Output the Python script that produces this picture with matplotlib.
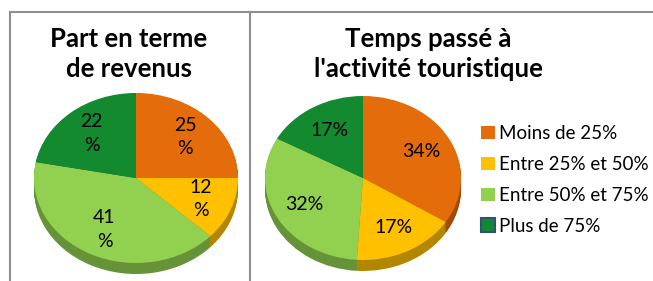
import numpy as np
import matplotlib.pyplot as plt
from matplotlib.lines import Line2D
from matplotlib.patches import Patch
from matplotlib.colors import to_rgb

plt.rcParams['font.family'] = ['Lato', 'DejaVu Sans']

# data
categories = ['Moins de 25%', 'Entre 25% et 50%', 'Entre 50% et 75%', 'Plus de 75%']
revenus = [25, 12, 41, 22]
temps = [34, 17, 32, 17]
titles = ['Part en terme\nde revenus', "Temps passé à\nl'activité touristique"]
colors = ['#E46C0A', '#FFC000', '#92D050', '#138A2F']

W, H = 653, 281
fig = plt.figure(figsize=(W / 100, H / 100), dpi=100)


def darker(c, f=0.7):
    r, g, b = to_rgb(c)
    return (r * f, g * f, b * f)


def pie3d(cx, cy, rx, ry, depth, values, fmt):
    # axes in pixel terms: 1 unit = rx px horizontally, ry px vertically
    x0, x1 = -1.05, 1.05
    y0, y1 = -1.0 - depth / ry - 0.05, 1.05
    left = cx + x0 * rx
    right = cx + x1 * rx
    top = cy - y1 * ry
    bottom = cy - y0 * ry
    ax = fig.add_axes([left / W, (H - bottom) / H, (right - left) / W, (bottom - top) / H])
    side = [darker(c) for c in colors]
    for d in np.linspace(depth / ry, 0.01, 12):
        ax.pie(values, colors=side, startangle=90, counterclock=False,
               center=(0, -d), wedgeprops=dict(linewidth=0))
    ax.pie(values, colors=colors, startangle=90, counterclock=False,
           autopct=fmt, pctdistance=0.68,
           textprops=dict(fontsize=14, color='black', linespacing=1.45),
           wedgeprops=dict(linewidth=0))
    ax.set_aspect('auto')
    ax.set_xlim(x0, x1)
    ax.set_ylim(y0, y1)
    ax.axis('off')
    return ax


pie3d(136, 178, 102, 85, 11, revenus, lambda p: '{:.0f}\n%'.format(p))
pie3d(363, 178, 98, 82, 11, temps, lambda p: '{:.0f}%'.format(p))

# titles
fig.text(129 / W, 1 - 54 / H, titles[0], ha='center', va='center',
         fontsize=18.5, fontweight='bold', linespacing=1.33)
fig.text(428 / W, 1 - 54 / H, titles[1], ha='center', va='center',
         fontsize=18.5, fontweight='bold', linespacing=1.33)

# frame lines
gray = '#8f8f8f'
fig.add_artist(Line2D([10 / W, 1], [1 - 12 / H, 1 - 12 / H], color=gray, lw=1.5))
fig.add_artist(Line2D([10 / W, 10 / W], [0, 1 - 12 / H], color=gray, lw=1.5))
fig.add_artist(Line2D([250 / W, 250 / W], [0, 1 - 12 / H], color=gray, lw=1.5))

# legend
handles = [Patch(facecolor=c, edgecolor='none') for c in colors[:3]]
handles.append(Patch(facecolor=colors[3], edgecolor='#2F4F7F', linewidth=1.5))
fig.legend(handles, categories, loc='upper left', bbox_to_anchor=(481 / W, 1 - 125 / H),
           frameon=False, fontsize=13.5, handlelength=0.72, handleheight=0.72,
           handletextpad=0.25, labelspacing=0.74, borderpad=0, borderaxespad=0)

fig.savefig('out.png', dpi=100)
